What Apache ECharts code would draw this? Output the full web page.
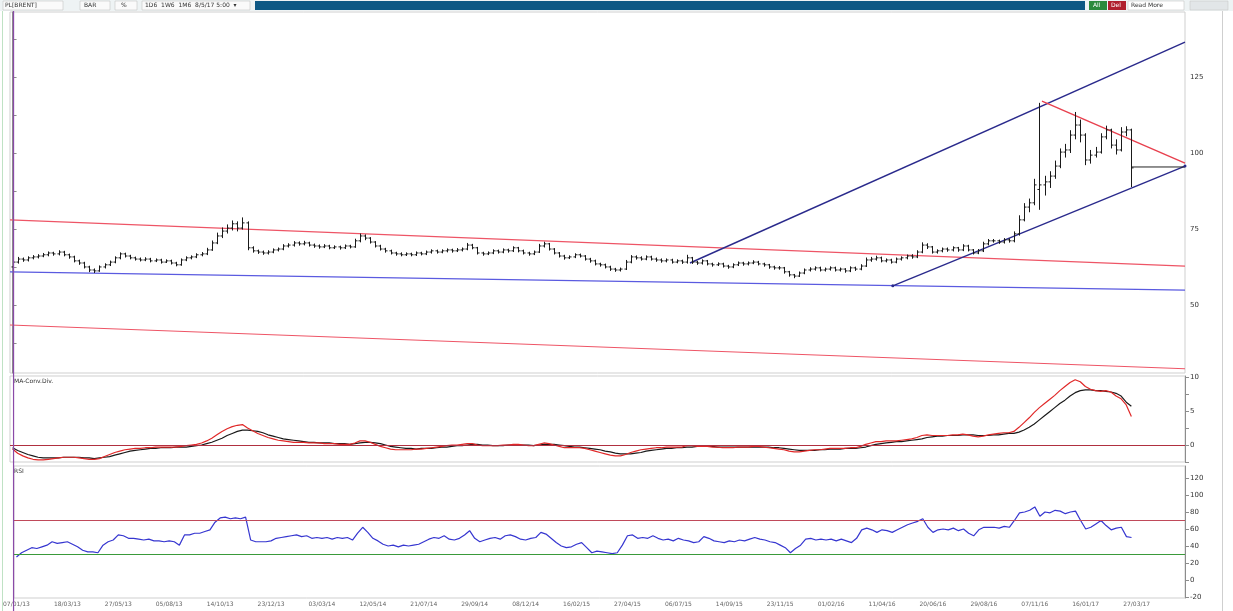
<!DOCTYPE html>
<html>
<head>
<meta charset="utf-8">
<script src="https://cdn.jsdelivr.net/npm/echarts@6/dist/echarts.min.js"></script>
<style>
html,body{margin:0;padding:0;background:#fff;}
#chart{width:1233px;height:611px;}
</style>
</head>
<body>
<div id="chart"></div>
<script>
// ---------- DATA ----------
// Price bars: [open, close, low, high]
const priceBars = [
[62.5,64.1,59.5,67.5],[64.1,65.1,63.6,65.8],[65.1,64.8,64.2,65.6],[64.8,65.5,64.3,66.0],[65.5,65.8,65.0,66.4],
[65.8,66.1,65.3,66.7],[66.1,66.5,65.7,67.1],[66.5,67.1,66.0,67.6],[67.1,66.8,66.2,67.5],[66.8,67.4,66.3,68.0],
[67.4,66.5,66.0,67.8],[66.5,65.8,65.2,66.9],[65.8,64.5,64.0,66.2],[64.5,63.8,63.2,64.9],[63.8,62.5,62.0,64.2],
[62.5,61.5,60.8,62.9],[61.5,61.2,60.5,62.0],[61.2,62.5,60.9,63.0],[62.5,63.2,62.0,63.7],[63.2,64.1,62.8,64.6],
[64.1,65.5,63.7,66.0],[65.5,66.8,65.0,67.3],[66.8,66.1,65.6,67.2],[66.1,65.5,65.0,66.5],[65.5,65.1,64.6,65.9],
[65.1,64.8,64.3,65.6],[64.8,65.1,64.4,65.7],[65.1,64.5,64.0,65.5],[64.5,64.8,64.1,65.3],[64.8,64.1,63.6,65.2],
[64.1,64.5,63.8,65.0],[64.5,63.8,63.3,64.9],[63.8,63.2,62.7,64.2],[63.2,64.8,62.9,65.3],[64.8,65.5,64.4,66.0],
[65.5,65.8,65.0,66.3],[65.8,66.5,65.4,67.0],[66.5,66.8,66.0,67.4],[66.8,68.1,66.4,68.8],[68.1,70.4,67.8,71.2],
[70.4,72.7,70.0,73.8],[72.7,74.3,72.0,75.5],[74.3,75.3,73.5,76.5],[75.3,76.7,74.5,77.8],[76.7,75.3,74.2,77.5],
[75.3,77.0,74.8,78.8],[77.0,68.8,68.0,77.5],[68.8,67.8,67.2,69.3],[67.8,67.4,66.8,68.2],[67.4,67.1,66.5,67.9],
[67.1,67.4,66.6,68.0],[67.4,68.1,67.0,68.6],[68.1,68.4,67.6,68.9],[68.4,69.4,68.0,70.0],[69.4,69.7,68.9,70.3],
[69.7,70.4,69.2,71.0],[70.4,70.1,69.5,70.9],[70.1,70.4,69.6,71.1],[70.4,69.7,69.2,70.8],[69.7,69.4,68.8,70.2],
[69.4,69.1,68.5,69.9],[69.1,69.4,68.7,70.0],[69.4,68.8,68.3,69.8],[68.8,69.1,68.4,69.6],[69.1,68.8,68.2,69.5],
[68.8,69.4,68.4,69.9],[69.4,69.1,68.6,69.8],[69.1,71.1,68.8,71.8],[71.1,72.7,70.6,73.5],[72.7,72.0,71.3,73.2],
[72.0,70.7,70.2,72.3],[70.7,69.4,68.9,71.0],[69.4,68.4,67.9,69.8],[68.4,67.8,67.2,68.8],[67.8,67.1,66.6,68.2],
[67.1,66.8,66.2,67.5],[66.8,66.5,66.0,67.3],[66.5,66.8,66.1,67.3],[66.8,66.5,66.0,67.2],[66.5,67.1,66.1,67.6],
[67.1,66.8,66.3,67.5],[66.8,67.4,66.4,67.9],[67.4,67.8,66.9,68.3],[67.8,67.4,66.9,68.2],[67.4,67.8,67.0,68.3],
[67.8,68.1,67.3,68.6],[68.1,67.8,67.2,68.5],[67.8,68.1,67.4,68.7],[68.1,68.4,67.6,68.9],[68.4,69.7,68.0,70.4],
[69.7,68.8,68.3,70.1],[68.8,67.1,66.6,69.1],[67.1,66.8,66.2,67.5],[66.8,67.1,66.4,67.6],[67.1,67.8,66.7,68.3],
[67.8,67.4,66.9,68.2],[67.4,68.1,67.0,68.6],[68.1,67.8,67.2,68.5],[67.8,68.8,67.4,69.3],[68.8,67.8,67.3,69.1],
[67.8,67.1,66.6,68.2],[67.1,66.8,66.2,67.5],[66.8,67.4,66.4,67.9],[67.4,69.4,67.1,70.1],[69.4,70.1,68.9,70.8],
[70.1,68.4,67.9,70.4],[68.4,67.1,66.6,68.7],[67.1,66.1,65.6,67.4],[66.1,65.5,64.9,66.5],[65.5,65.8,65.1,66.3],
[65.8,66.5,65.4,67.0],[66.5,66.1,65.6,66.9],[66.1,65.1,64.6,66.4],[65.1,64.5,63.9,65.5],[64.5,63.5,63.0,64.9],
[63.5,63.2,62.6,63.9],[63.2,62.5,62.0,63.6],[62.5,61.8,61.2,62.9],[61.8,61.5,60.9,62.2],[61.5,61.8,61.0,62.3],
[61.8,64.1,61.5,64.8],[64.1,65.8,63.7,66.4],[65.8,65.5,64.9,66.3],[65.5,65.1,64.6,66.0],[65.1,65.8,64.7,66.3],
[65.8,65.1,64.6,66.2],[65.1,64.8,64.2,65.6],[64.8,64.5,63.9,65.3],[64.5,64.8,64.0,65.3],[64.8,64.1,63.6,65.2],
[64.1,64.5,63.7,65.0],[64.5,64.1,63.5,64.9],[64.1,65.5,63.6,66.5],[65.5,64.1,63.5,65.8],[64.1,63.8,63.2,64.5],
[63.8,64.5,63.3,65.0],[64.5,63.5,63.0,64.8],[63.5,63.2,62.6,63.9],[63.2,63.5,62.8,64.0],[63.5,62.8,62.3,63.9],
[62.8,62.5,61.9,63.2],[62.5,63.2,62.1,63.7],[63.2,63.8,62.8,64.3],[63.8,63.5,62.9,64.2],[63.5,63.8,63.0,64.3],
[63.8,64.1,63.4,64.7],[64.1,63.5,63.0,64.5],[63.5,63.2,62.6,63.9],[63.2,62.5,61.9,63.5],[62.5,62.2,61.6,62.9],
[62.2,62.2,61.6,62.8],[62.2,60.9,60.3,62.5],[60.9,59.9,59.3,61.2],[59.9,59.5,58.8,60.2],[59.5,60.5,59.2,61.0],
[60.5,61.5,60.1,62.0],[61.5,61.8,61.0,62.4],[61.8,62.2,61.3,62.7],[62.2,61.5,61.0,62.6],[61.5,61.8,61.0,62.3],
[61.8,62.2,61.3,62.7],[62.2,61.5,61.0,62.6],[61.5,61.8,61.0,62.3],[61.8,61.2,60.6,62.1],[61.2,62.2,60.8,62.7],
[62.2,61.8,61.2,62.6],[61.8,62.8,61.4,63.4],[62.8,64.8,62.5,65.6],[64.8,65.1,64.2,65.8],[65.1,65.5,64.6,66.2],
[65.5,64.5,64.0,65.9],[64.5,64.8,64.0,65.3],[64.8,64.1,63.6,65.2],[64.1,65.1,63.7,65.6],[65.1,65.5,64.6,66.0],
[65.5,66.1,65.0,66.6],[66.1,65.8,65.2,66.7],[65.8,67.4,65.4,68.0],[67.4,69.7,67.0,70.6],[69.7,69.1,68.4,70.3],
[69.1,67.4,66.9,69.4],[67.4,67.8,66.9,68.3],[67.8,68.4,67.3,68.9],[68.4,68.1,67.5,68.9],[68.1,68.8,67.6,69.3],
[68.8,68.1,67.5,69.1],[68.1,69.4,67.7,70.0],[69.4,68.1,67.6,69.8],[68.1,67.1,66.6,68.4],[67.1,67.8,66.7,68.4],
[67.8,70.1,67.4,70.8],[70.1,71.1,69.6,71.7],[71.1,71.1,70.5,71.7],[71.1,70.7,70.1,71.5],[70.7,71.4,70.2,72.0],
[71.4,71.1,70.5,71.9],[71.1,73.4,70.6,74.2],[73.4,78.0,72.8,79.5],[78.0,82.2,77.5,83.5],[82.2,83.6,80.5,85.0],
[83.6,89.5,82.8,91.5],[88.0,89.5,81.3,116.5],[89.5,90.5,86.0,92.5],[90.5,92.4,88.5,94.0],[92.4,95.7,91.5,97.5],
[95.7,100.3,95.0,101.5],[100.3,101.0,98.5,103.0],[101.0,105.9,100.0,107.5],[105.9,109.2,104.5,113.5],[109.2,105.9,103.5,111.0],
[105.9,97.7,96.0,106.5],[97.7,99.3,96.5,101.0],[99.3,100.3,98.5,102.0],[100.3,105.3,99.8,106.5],[105.3,107.6,104.5,109.0],
[107.6,102.6,101.5,108.0],[102.6,101.0,99.5,104.5],[101.0,106.9,100.5,108.5],[106.9,107.6,105.5,108.8],[107.6,95.1,88.8,108.0]
];

// MACD (red) and signal (black)
const macdLine = [
-0.6,-1.2,-1.6,-1.9,-2.1,-2.2,-2.2,-2.1,-2.0,-1.9,
-1.8,-1.8,-1.8,-1.9,-2.0,-2.1,-2.1,-2.0,-1.7,-1.4,
-1.1,-0.9,-0.7,-0.6,-0.5,-0.5,-0.4,-0.4,-0.3,-0.3,
-0.3,-0.3,-0.3,-0.2,-0.1,0.0,0.1,0.3,0.6,1.0,
1.5,2.0,2.4,2.7,2.9,3.0,2.5,2.1,1.7,1.4,
1.1,0.9,0.7,0.6,0.5,0.4,0.4,0.4,0.3,0.3,
0.3,0.2,0.2,0.2,0.1,0.1,0.1,0.3,0.6,0.6,
0.4,0.1,-0.2,-0.4,-0.6,-0.7,-0.7,-0.7,-0.7,-0.6,
-0.6,-0.5,-0.4,-0.3,-0.2,-0.1,0.0,0.0,0.1,0.2,
0.2,0.0,-0.1,-0.1,-0.1,-0.1,0.0,0.0,0.1,0.1,
0.0,-0.1,-0.1,0.1,0.3,0.2,0.0,-0.2,-0.4,-0.4,
-0.4,-0.4,-0.5,-0.7,-0.9,-1.1,-1.3,-1.5,-1.6,-1.6,
-1.4,-1.1,-0.9,-0.7,-0.6,-0.5,-0.4,-0.4,-0.3,-0.3,
-0.3,-0.3,-0.1,-0.1,-0.2,-0.2,-0.2,-0.3,-0.3,-0.4,
-0.4,-0.4,-0.3,-0.3,-0.3,-0.2,-0.2,-0.3,-0.4,-0.5,
-0.6,-0.7,-0.9,-1.0,-1.0,-0.9,-0.8,-0.7,-0.7,-0.6,
-0.5,-0.5,-0.5,-0.5,-0.4,-0.4,-0.2,0.1,0.3,0.5,
0.5,0.6,0.6,0.6,0.7,0.8,0.9,1.1,1.4,1.5,
1.4,1.4,1.4,1.4,1.5,1.5,1.6,1.5,1.3,1.2,
1.3,1.5,1.6,1.7,1.8,1.8,2.0,2.6,3.3,4.0,
4.8,5.5,6.1,6.7,7.3,8.0,8.6,9.2,9.6,9.3,
8.6,8.2,8.0,7.9,8.0,7.8,7.2,6.8,5.9,4.2
];
const signalLine = [
-0.4,-0.8,-1.1,-1.4,-1.6,-1.8,-1.9,-1.9,-1.9,-1.9,
-1.8,-1.8,-1.8,-1.8,-1.9,-1.9,-2.0,-1.9,-1.8,-1.7,
-1.5,-1.3,-1.1,-0.9,-0.8,-0.7,-0.6,-0.5,-0.5,-0.4,
-0.4,-0.4,-0.3,-0.3,-0.3,-0.2,-0.1,0.0,0.2,0.4,
0.7,1.0,1.4,1.7,2.0,2.2,2.2,2.1,2.0,1.8,
1.5,1.3,1.1,0.9,0.8,0.7,0.6,0.5,0.4,0.4,
0.3,0.3,0.3,0.2,0.2,0.2,0.1,0.2,0.3,0.4,
0.4,0.3,0.2,0.0,-0.2,-0.3,-0.4,-0.5,-0.5,-0.6,
-0.5,-0.5,-0.5,-0.4,-0.3,-0.3,-0.2,-0.1,-0.1,0.0,
0.1,0.1,0.0,0.0,-0.1,-0.1,-0.1,0.0,0.0,0.0,
0.0,0.0,-0.1,0.0,0.1,0.1,0.1,0.0,-0.1,-0.2,
-0.3,-0.3,-0.4,-0.5,-0.6,-0.7,-0.9,-1.0,-1.2,-1.3,
-1.3,-1.3,-1.2,-1.1,-0.9,-0.8,-0.7,-0.6,-0.5,-0.5,
-0.4,-0.4,-0.3,-0.3,-0.2,-0.2,-0.2,-0.2,-0.3,-0.3,
-0.3,-0.3,-0.3,-0.3,-0.3,-0.3,-0.3,-0.3,-0.3,-0.4,
-0.4,-0.5,-0.6,-0.7,-0.8,-0.8,-0.8,-0.8,-0.7,-0.7,
-0.6,-0.6,-0.6,-0.5,-0.5,-0.5,-0.4,-0.3,-0.1,0.1,
0.2,0.3,0.4,0.5,0.5,0.6,0.7,0.8,0.9,1.1,
1.2,1.3,1.3,1.4,1.4,1.4,1.5,1.5,1.5,1.4,
1.4,1.4,1.5,1.5,1.6,1.7,1.7,1.9,2.2,2.6,
3.1,3.7,4.3,4.9,5.5,6.1,6.6,7.2,7.7,8.0,
8.1,8.1,8.0,8.0,7.9,7.8,7.6,7.2,6.3,5.7
];

// RSI
const rsiLine = [
27,32,35,38,37,39,41,45,43,44,
45,42,39,35,33,33,32,41,45,47,
53,52,49,49,48,47,48,46,46,45,
46,45,41,53,53,55,55,57,59,68,
73,74,72,73,72,74,47,45,45,45,
46,49,50,51,52,53,51,52,49,50,
49,50,48,50,49,50,47,55,62,56,
49,46,42,40,41,39,41,40,41,42,
45,48,50,49,52,48,47,49,53,58,
49,45,47,49,50,48,52,53,51,48,
47,49,50,56,54,49,44,40,38,39,
42,44,38,32,34,33,32,31,32,41,
52,53,49,50,49,52,49,47,48,46,
49,47,46,44,45,51,49,46,45,44,
46,45,47,46,48,50,48,47,45,44,
41,38,32,37,41,48,49,47,48,47,
48,46,48,46,44,49,59,61,59,56,
59,58,56,59,62,65,67,69,72,62,
56,59,60,59,61,58,60,55,52,59,
62,62,62,61,63,62,70,79,80,82,
86,75,80,79,82,81,78,80,81,70,
60,62,66,70,64,59,61,62,51,50
];

// Tick labels (one every 10 bars)
const dateLabels = ["07/01/13","18/03/13","27/05/13","05/08/13","14/10/13","23/12/13","03/03/14","12/05/14",
"21/07/14","29/09/14","08/12/14","16/02/15","27/04/15","06/07/15","14/09/15","23/11/15","01/02/16",
"11/04/16","20/06/16","29/08/16","07/11/16","16/01/17","27/03/17"];
const priceTicks = [50, 75, 100, 125];
const priceMinorTicks = [37.5, 50, 62.5, 75, 87.5, 100, 112.5, 125, 137.5];
const macdTicks = [0, 5, 10];
const macdMinorTicks = [-2.5, 0, 2.5, 5, 7.5, 10];
const rsiTicks = [-20, 0, 20, 40, 60, 80, 100, 120];

// Trend lines (bar index, price)
const blueUpper = [[132.6, 63.8], [229.5, 136.5]];
const blueLower = [[172.3, 56.3], [229.5, 95.7]];
const blueBase  = [[-0.5, 60.9], [229.5, 54.9]];
const redUpper  = [[-0.5, 78.0], [229.5, 62.8]];
const redLower  = [[-0.5, 43.4], [229.5, 29.0]];
const redDesc   = [[201.5, 117.1], [229.5, 96.7]];
const blackHoriz = [[219.1, 95.4], [229.5, 95.4]];

const N = 230; // categories incl. empty space on the right
const categories = [];
for (let i = 0; i < N; i++) categories.push(String(i));

// ---------- CHART ----------
const chart = echarts.init(document.getElementById('chart'), null, {renderer: 'canvas'});

const gridBase = {left: 10, right: 48, show: true, borderColor: '#cfcfcf', borderWidth: 1, backgroundColor: '#fff'};
const yAxisBase = (gi, min, max, labels, ticks) => ({
  gridIndex: gi, type: 'value', position: 'right', min, max, scale: true,
  axisLine: {show: true, lineStyle: {color: '#8c8c8c'}},
  axisTick: {show: true, customValues: ticks || labels, length: 4, inside: false, lineStyle: {color: '#8c8c8c'}},
  axisLabel: {customValues: labels, fontSize: 7, color: '#333', margin: 5, fontFamily: 'DejaVu Sans'},
  splitLine: {show: false}
});
const xCat = (gi, showLabel) => ({
  gridIndex: gi, type: 'category', data: categories, boundaryGap: true,
  axisLine: {show: false}, axisTick: {show: false},
  axisLabel: showLabel ? {
    show: true, interval: 9, fontSize: 6, color: '#666', margin: 3, fontFamily: 'DejaVu Sans',
    formatter: (v, idx) => dateLabels[idx / 10] || ''
  } : {show: false},
  splitLine: {show: false}
});

function trend(data, color, width, sym) {
  return {
    type: 'line', xAxisIndex: 3, yAxisIndex: 0, data: data,
    symbol: sym ? 'circle' : 'none', symbolSize: 3, showSymbol: !!sym,
    itemStyle: {color: color},
    lineStyle: {color: color, width: width}, silent: true, z: 3
  };
}

const option = {
  animation: false,
  backgroundColor: '#fff',
  grid: [
    Object.assign({top: 12, height: 361}, gridBase),
    Object.assign({top: 376, height: 86}, gridBase),
    Object.assign({top: 466, height: 132}, gridBase)
  ],
  xAxis: [
    xCat(0, false), xCat(1, false), xCat(2, true),
    {gridIndex: 0, type: 'value', min: -0.5, max: N - 0.5, show: false}
  ],
  yAxis: [
    yAxisBase(0, 27.6, 146.4, priceTicks, priceMinorTicks),
    yAxisBase(1, -2.5, 10.15, macdTicks, macdMinorTicks),
    yAxisBase(2, -21.2, 134.1, rsiTicks)
  ],
  series: [
    {
      type: 'custom', xAxisIndex: 0, yAxisIndex: 0, z: 4,
      data: priceBars.map((b, i) => [i, b[0], b[1], b[2], b[3]]),
      encode: {x: 0, y: [1, 2, 3, 4]},
      renderItem: function (params, api) {
        const x = api.value(0);
        const pO = api.coord([x, api.value(1)]);
        const pC = api.coord([x, api.value(2)]);
        const pL = api.coord([x, api.value(3)]);
        const pH = api.coord([x, api.value(4)]);
        const w = Math.max(1.5, api.size([1, 0])[0] * 0.4);
        const st = {stroke: '#1a1a1a', lineWidth: 1};
        const cx = Math.round(pO[0]) + 0.5;
        return {type: 'group', children: [
          {type: 'line', shape: {x1: cx, y1: pL[1], x2: cx, y2: pH[1]}, style: st},
          {type: 'line', shape: {x1: cx - w, y1: pO[1], x2: cx, y2: pO[1]}, style: st},
          {type: 'line', shape: {x1: cx, y1: pC[1], x2: cx + w, y2: pC[1]}, style: st}
        ]};
      }
    },
    trend(redUpper, '#ee5566', 1.2),
    trend(redLower, '#ee5566', 1.2),
    trend(blueBase, '#5a5ae0', 1.2),
    trend(blueUpper, '#2a2a8c', 1.4),
    trend(blueLower, '#2a2a8c', 1.4, true),
    trend(redDesc, '#e8404e', 1.4),
    trend(blackHoriz, '#222', 1),
    {
      type: 'line', xAxisIndex: 1, yAxisIndex: 1, data: signalLine, symbol: 'none',
      lineStyle: {color: '#1a1a1a', width: 1.2}, silent: true, z: 3,
      markLine: {silent: true, symbol: 'none', label: {show: false},
        lineStyle: {color: '#b03040', width: 1.2, type: 'solid'}, data: [{yAxis: 0}]}
    },
    {
      type: 'line', xAxisIndex: 1, yAxisIndex: 1, data: macdLine, symbol: 'none',
      lineStyle: {color: '#e02828', width: 1.2}, silent: true, z: 4
    },
    {
      type: 'line', xAxisIndex: 2, yAxisIndex: 2, data: rsiLine, symbol: 'none', step: false,
      lineStyle: {color: '#3636d0', width: 1.2}, silent: true, z: 3,
      markLine: {silent: true, symbol: 'none', label: {show: false}, data: [
        {yAxis: 70, lineStyle: {color: '#c04a5a', width: 1.2, type: 'solid'}},
        {yAxis: 30, lineStyle: {color: '#3a9a3a', width: 1.2, type: 'solid'}}
      ]}
    }
  ],
  graphic: [
    {id: 'tb', type: 'rect', shape: {x: 0, y: 0, width: 1233, height: 11}, style: {fill: '#eef3f4'}, silent: true},
    {id: 'tb1', type: 'rect', shape: {x: 3, y: 1, width: 60, height: 9}, style: {fill: '#fafafa', stroke: '#bbb', lineWidth: 0.5}},
    {id: 'tb1t', type: 'text', x: 5, y: 2, style: {text: 'PL[BRENT]', fontSize: 6, fill: '#333', fontFamily: 'DejaVu Sans'}},
    {id: 'tb2', type: 'rect', shape: {x: 80, y: 1, width: 30, height: 9}, style: {fill: '#fafafa', stroke: '#bbb', lineWidth: 0.5}},
    {id: 'tb2t', type: 'text', x: 84, y: 2, style: {text: 'BAR', fontSize: 6, fill: '#333', fontFamily: 'DejaVu Sans'}},
    {id: 'tb3', type: 'rect', shape: {x: 115, y: 1, width: 22, height: 9}, style: {fill: '#fafafa', stroke: '#bbb', lineWidth: 0.5}},
    {id: 'tb3t', type: 'text', x: 121, y: 2, style: {text: '%', fontSize: 6, fill: '#333', fontFamily: 'DejaVu Sans'}},
    {id: 'tb4', type: 'rect', shape: {x: 142, y: 1, width: 108, height: 9}, style: {fill: '#fafafa', stroke: '#bbb', lineWidth: 0.5}},
    {id: 'tb4t', type: 'text', x: 145, y: 2, style: {text: '1D6  1W6  1M6  8/5/17 5:00  ▾', fontSize: 6, fill: '#333', fontFamily: 'DejaVu Sans'}},
    {id: 'tbBlue', type: 'rect', shape: {x: 255, y: 1, width: 830, height: 9}, style: {fill: '#0d5884'}},
    {id: 'tbG', type: 'rect', shape: {x: 1089, y: 1, width: 18, height: 9}, style: {fill: '#2c8a3c'}},
    {id: 'tbGt', type: 'text', x: 1093, y: 2, style: {text: 'All', fontSize: 6, fill: '#fff', fontFamily: 'DejaVu Sans'}},
    {id: 'tbR', type: 'rect', shape: {x: 1108, y: 1, width: 18, height: 9}, style: {fill: '#b0202e'}},
    {id: 'tbRt', type: 'text', x: 1111, y: 2, style: {text: 'Del', fontSize: 6, fill: '#fff', fontFamily: 'DejaVu Sans'}},
    {id: 'tbW', type: 'rect', shape: {x: 1128, y: 1, width: 56, height: 9}, style: {fill: '#fff', stroke: '#bbb', lineWidth: 0.5}},
    {id: 'tbWt', type: 'text', x: 1131, y: 2, style: {text: 'Read More', fontSize: 6, fill: '#333', fontFamily: 'DejaVu Sans'}},
    {id: 'tbI', type: 'rect', shape: {x: 1190, y: 1, width: 38, height: 9}, style: {fill: '#e2e6e8', stroke: '#c0c0c0', lineWidth: 0.5}},
    {id: 'leftEdge', type: 'line', shape: {x1: 2.5, y1: 11, x2: 2.5, y2: 611}, style: {stroke: '#bfe2c4', lineWidth: 1}},
    {id: 'rightEdge', type: 'line', shape: {x1: 1222.5, y1: 11, x2: 1222.5, y2: 611}, style: {stroke: '#cfcfcf', lineWidth: 1}},
    {id: 'macdTitle', type: 'text', x: 14, y: 378, style: {text: 'MA-Conv.Div.', fontSize: 6, fill: '#333', fontFamily: 'DejaVu Sans'}},
    {id: 'rsiTitle', type: 'text', x: 14, y: 468, style: {text: 'RSI', fontSize: 6, fill: '#333', fontFamily: 'DejaVu Sans'}}
  ]
};
chart.setOption(option);

// vertical cursor line at the first bar, placed through the axis scale
const cx = chart.convertToPixel({xAxisIndex: 0}, 0);
chart.setOption({graphic: [
  {id: 'cursor', type: 'line', shape: {x1: cx + 1, y1: 11, x2: cx + 1, y2: 611}, style: {stroke: '#8a4aa8', lineWidth: 1.2}, z: 10}
]});
</script>
</body>
</html>
